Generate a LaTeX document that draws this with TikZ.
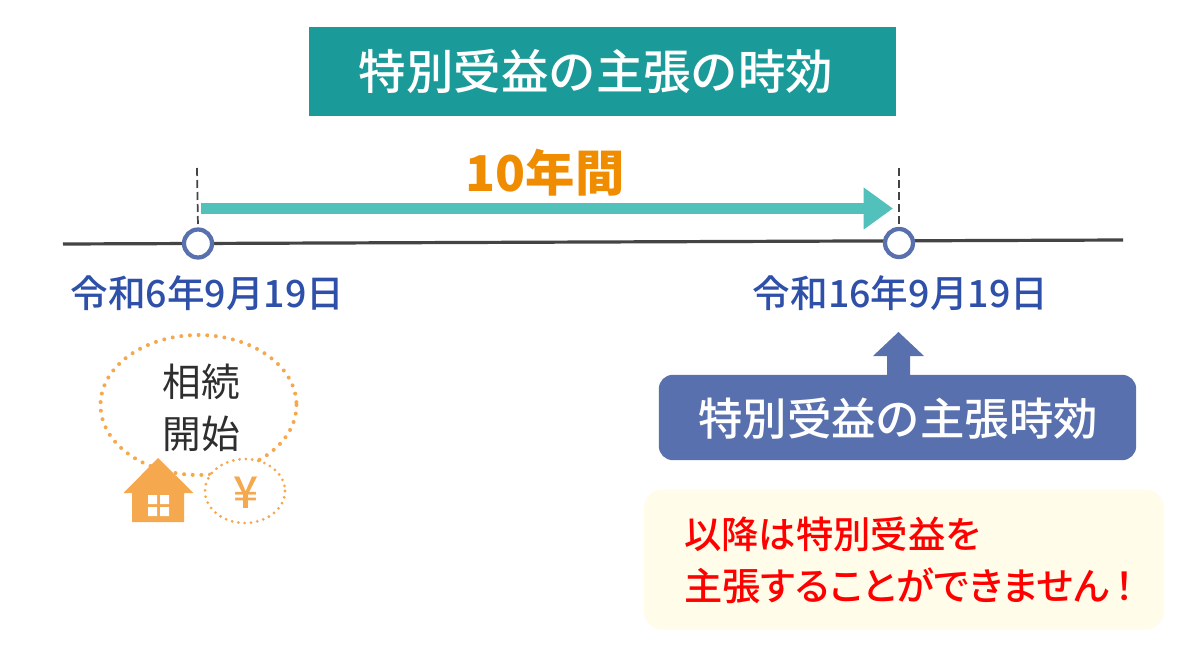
\documentclass[tikz,border=0pt]{standalone}
\usepackage{fontspec}
\setmainfont{Noto Sans CJK JP}
\newfontfamily\medfont{Noto Sans CJK JP Medium}
\newfontfamily\notefont[RawFeature={+palt}]{Noto Sans CJK JP Medium}
\usetikzlibrary{arrows.meta}
\definecolor{teal1}{HTML}{1A9A98}
\definecolor{teal2}{HTML}{52C1BC}
\definecolor{orange1}{HTML}{F08C00}
\definecolor{orange2}{HTML}{F5A84E}
\definecolor{blue1}{HTML}{5870AE}
\definecolor{blue2}{HTML}{2F50A8}
\definecolor{line1}{HTML}{444444}
\definecolor{cream}{HTML}{FFFCE9}
\newcommand{\fs}[1]{\fontsize{#1}{#1}\selectfont}
\tikzset{
  x=0.75pt,y=-0.75pt,
  mark circle/.style={circle,draw=blue1,line width=3.2pt,fill=white,minimum size=21pt,inner sep=0pt},
  date label/.style={text=blue2,inner sep=0pt,font=\medfont\fs{28.2}},
  tick line/.style={draw=line1,line width=1.3pt,dash pattern=on 6pt off 3pt},
  dot line/.style={draw=orange2,line cap=round},
  big label/.style={text=white,inner sep=0pt,font=\medfont\fs{35.6}},
  note text/.style={anchor=west,inner sep=0pt,text=red,font=\notefont\fs{28.7}},
}
\begin{document}
\begin{tikzpicture}
\useasboundingbox (0,0) rectangle (1200,650);
\fill[white] (0,0) rectangle (1200,650);
% title
\node[fill=teal1,minimum width=440pt,minimum height=66.75pt,inner sep=0pt] (title) at (602.5,71.5) {};
\node[big label] (titletext) at (596,71) {特別受益の主張の時効};
% period
\node[text=orange1,inner sep=0pt,font=\fs{37}\bfseries] (period) at (545,173) {10年間};
% time line
\coordinate (lineL) at (63,244);
\coordinate (lineR) at (1123,240);
\draw[draw=line1,line width=2.4pt] (lineL) -- (lineR);
\coordinate (tickA) at (197,168);
\coordinate (tickB) at (899,168);
\node[mark circle] (start) at (198,243.5) {};
\node[mark circle] (end) at (899,243) {};
\draw[tick line] (tickA) -- (start.north);
\draw[tick line] (tickB) -- (end.north);
% arrow
\coordinate (arrowS) at (201,208.5);
\coordinate (arrowE) at (893,208.5);
\draw[draw=teal2,line width=8.2pt,-{Triangle[length=22pt,width=30pt]}] (arrowS) -- (arrowE);
% dates
\node[date label] (d1) at (207.5,293.5) {令和6年9月19日};
\node[date label] (d2) at (900.5,293.5) {令和16年9月19日};
% start group
\draw[dot line,line width=3pt,dash pattern=on 0pt off 6.5pt] (198.5,405) ellipse [x radius=98,y radius=70];
\node[inner sep=0pt,text=black!82,align=center,font=\fs{29}] (start label) at (201,407.5) {\fontsize{29}{36}\selectfont 相続\\[10pt]開始};
% house
\fill[orange2] (158,458) -- (193.5,493) -- (184,493) -- (184,522) -- (132,522) -- (132,493) -- (123.5,493) -- cycle;
\fill[white] (148,495) rectangle (157,504) (160,495) rectangle (169,504) (148,507) rectangle (157,516) (160,507) rectangle (169,516);
% yen
\fill[white] (245,493) ellipse [x radius=41,y radius=33];
\draw[dot line,line width=2.3pt,dash pattern=on 0pt off 4.75pt] (245,491) ellipse [x radius=40,y radius=32];
\node[text=orange2,inner sep=0pt,font=\medfont\fs{33}] (yen) at (246,493) {¥};
% up arrow
\fill[blue1] (898.5,332) -- (924,356) -- (910,356) -- (910,380) -- (887,380) -- (887,356) -- (873,356) -- cycle;
\node[fill=blue1,rounded corners=10.5pt,minimum width=358pt,minimum height=64pt,inner sep=0pt] (box) at (897.5,417.5) {};
\node[big label,font=\medfont\fs{33.3}] (boxtext) at (898,419) {特別受益の主張時効};
% note
\node[fill=cream,rounded corners=14pt,minimum width=390pt,minimum height=105pt,inner sep=0pt] (note) at (904,559.5) {};
\node[note text,font=\notefont\fs{28}] (n1) at (684,534.5) {以降は特別受益を};
\node[note text] (n2) at (684,586) {主張することができません\hspace{4pt}！};
\end{tikzpicture}
\end{document}
